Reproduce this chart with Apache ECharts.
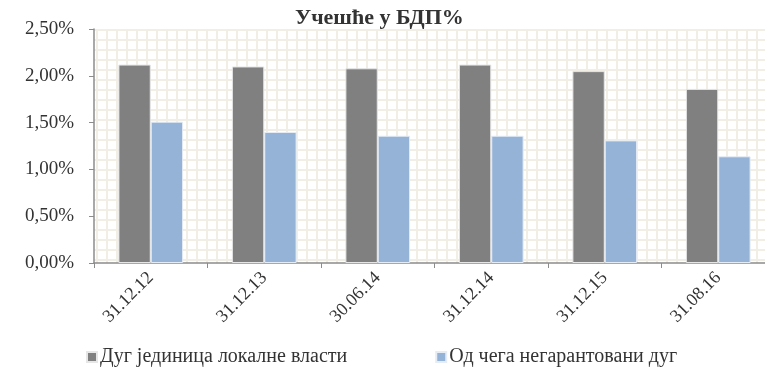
<!DOCTYPE html>
<html>
<head>
<meta charset="utf-8">
<script src="https://cdn.jsdelivr.net/npm/echarts@6/dist/echarts.min.js"></script>
<style>
  html, body { margin: 0; padding: 0; background: #ffffff; overflow: hidden; width: 765px; height: 369px; }
  /* The canvas is a little wider than the page so the plot runs off the right edge */
  #chart { width: 775px; height: 369px; }
</style>
</head>
<body>
<div id="chart"></div>
<script>
// Share of GDP, in percent
const categories = ['31.12.12', '31.12.13', '30.06.14', '31.12.14', '31.12.15', '31.08.16'];
const localDebt = [2.12, 2.10, 2.08, 2.12, 2.05, 1.86];
const unguaranteedDebt = [1.51, 1.40, 1.36, 1.36, 1.31, 1.14];
const seriesNames = ['Дуг јединица локалне власти', 'Од чега негарантовани дуг'];
const titleText = 'Учешће у БДП%';

// Fine cream grid pattern for the plot background
function makePattern() {
  const c = document.createElement('canvas');
  c.width = 10; c.height = 10;
  const g = c.getContext('2d');
  g.fillStyle = '#ffffff';
  g.fillRect(0, 0, 10, 10);
  g.fillStyle = '#F0EEE5';
  g.fillRect(6, 0, 2, 10);
  g.fillRect(0, 9, 10, 1);
  g.fillRect(0, 0, 10, 1);
  return c;
}

const serif = '"Liberation Serif", "DejaVu Serif", serif';
const chart = echarts.init(document.getElementById('chart'), null, { renderer: 'canvas' });

chart.setOption({
  animation: false,
  backgroundColor: '#ffffff',
  title: {
    text: titleText,
    left: 290,
    top: 2,
    textStyle: { fontFamily: serif, fontSize: 22, fontWeight: 'bold', color: '#333333' }
  },
  grid: {
    left: 94, right: 0, top: 29, bottom: 106,
    show: true,
    borderWidth: 0,
    backgroundColor: { image: makePattern(), repeat: 'repeat' }
  },
  legend: {
    bottom: -3,
    left: 81,
    itemGap: 88,
    itemWidth: 10,
    itemHeight: 10,
    icon: 'rect',
    textStyle: { fontFamily: serif, fontSize: 20, color: '#333333', padding: [0, 0, 0, -2] },
    data: seriesNames
  },
  xAxis: {
    type: 'category',
    data: categories,
    axisLine: { lineStyle: { color: '#8C8C8C', width: 1.5 } },
    axisTick: { show: true, length: 5, lineStyle: { color: '#8C8C8C' } },
    axisLabel: { rotate: 45, fontFamily: serif, fontSize: 18, color: '#333333', margin: 12 }
  },
  yAxis: {
    type: 'value',
    min: 0, max: 2.5, interval: 0.5,
    axisLine: { show: true, lineStyle: { color: '#8C8C8C', width: 1.5 } },
    axisTick: { show: true, length: 5, lineStyle: { color: '#8C8C8C' } },
    splitLine: { show: false },
    axisLabel: {
      fontFamily: serif, fontSize: 19, color: '#333333', margin: 20,
      formatter: v => v.toFixed(2).replace('.', ',') + '%'
    }
  },
  series: [
    {
      name: seriesNames[0], type: 'bar', data: localDebt,
      barGap: '0%', barCategoryGap: '43%',
      itemStyle: { color: '#808080', borderColor: '#E6E6E6', borderWidth: 1 }
    },
    {
      name: seriesNames[1], type: 'bar', data: unguaranteedDebt,
      itemStyle: { color: '#95B3D7', borderColor: '#E6ECF4', borderWidth: 1 }
    }
  ]
});
</script>
</body>
</html>
